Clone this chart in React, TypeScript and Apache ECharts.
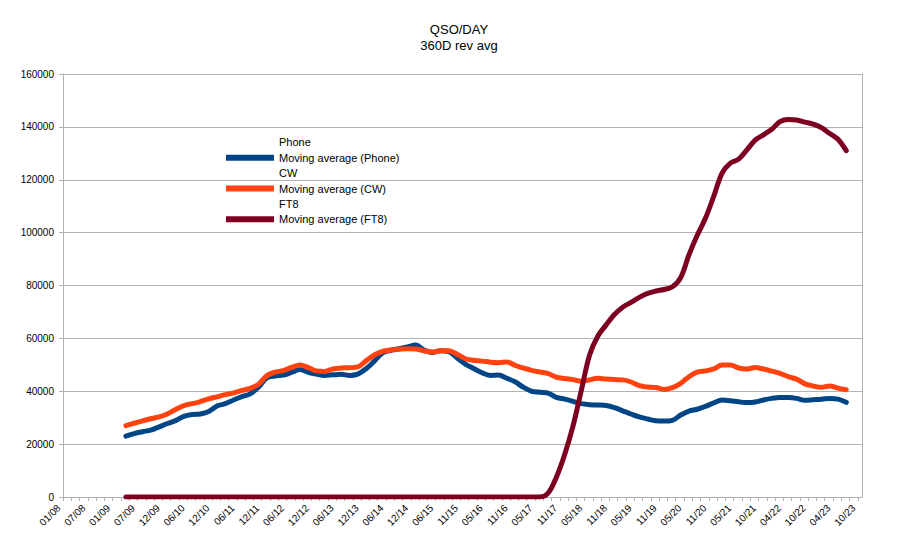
import { useEffect, useRef } from 'react';
import * as echarts from 'echarts';

// x axis: one tick per ~2 months, a label on every third tick
const tickLabels = [
  '01/08', '07/08', '01/09', '07/09', '12/09', '06/10', '12/10', '06/11', '12/11',
  '06/12', '12/12', '06/13', '12/13', '06/14', '12/14', '06/15', '11/15', '05/16',
  '11/16', '05/17', '11/17', '05/18', '11/18', '05/19', '11/19', '05/20', '11/20',
  '05/21', '10/21', '04/22', '10/22', '04/23', '10/23',
];
const LAST_TICK = 96.5;
// first sample sits this many ticks after 01/08, one sample per tick afterwards
const FIRST_SAMPLE = 7.6;

const phoneAvg = [
  23000, 24000, 24700, 25300, 26500, 27800, 28900, 30500, 31200, 31400,
  32300, 34400, 35300, 36700, 38000, 39000, 41500, 45000, 45800, 46100,
  47100, 48200, 47200, 46500, 46000, 46200, 46400, 46000, 46500, 48500,
  51400, 54500, 55500, 56100, 56800, 57500, 55600, 54700, 55300, 55000,
  52600, 50300, 48600, 47000, 46000, 46100, 44900, 43600, 41500, 40000,
  39600, 39300, 37700, 37000, 36200, 35300, 34900, 34800, 34600, 33800,
  32600, 31400, 30300, 29500, 28800, 28700, 29000, 31000, 32500, 33200,
  34300, 35600, 36700, 36400, 36000, 35700, 35900, 36700, 37300, 37600,
  37600, 37300, 36600, 36800, 37000, 37300, 37000, 35800,
];

const cwAvg = [
  27000, 27900, 28800, 29600, 30300, 31400, 33100, 34600, 35300, 36100,
  37100, 37900, 38700, 39400, 40300, 41100, 42600, 45900, 47200, 47800,
  49000, 49900, 49000, 47700, 47500, 48400, 48800, 48900, 49200, 51500,
  53700, 55100, 55600, 55900, 56100, 56000, 55300, 54800, 55300, 55300,
  54000, 52300, 51700, 51400, 51000, 50800, 51100, 49800, 48800, 47900,
  47300, 46700, 45300, 44800, 44400, 43800, 44300, 44900, 44600, 44400,
  44300, 43500, 42100, 41600, 41400, 40700, 41400, 43000, 45500, 47200,
  47700, 48500, 49900, 49900, 48800, 48400, 49000, 48400, 47600, 46800,
  45500, 44600, 42800, 42000, 41500, 42000, 41200, 40600,
];

const ft8Avg = [
  0, 0, 0, 0, 0, 0, 0, 0, 0, 0,
  0, 0, 0, 0, 0, 0, 0, 0, 0, 0,
  0, 0, 0, 0, 0, 0, 0, 0, 0, 0,
  0, 0, 0, 0, 0, 0, 0, 0, 0, 0,
  0, 0, 0, 0, 0, 0, 0, 0, 0, 0,
  0, 1500, 7600, 16200, 26900, 40300, 53700, 60900, 65100, 69000,
  71800, 73600, 75500, 77000, 77900, 78500, 79500, 83000, 91600, 99000,
  105500, 113800, 122500, 126300, 127800, 131300, 135000, 137000, 139100, 142000,
  142800, 142600, 141800, 141000, 139700, 137500, 135300, 131000,
];

const FONT = 'Liberation Sans, Arial, sans-serif';
const GRID_COLOR = '#b3b3b3';

function toPoints(values: number[]): [number, number][] {
  return values.map((v, k) => [FIRST_SAMPLE + k, v]);
}

function avgSeries(name: string, values: number[], color: string) {
  return {
    name,
    type: 'line' as const,
    data: toPoints(values),
    smooth: 0.35,
    symbol: 'none',
    color,
    lineStyle: { width: 5, color, cap: 'round' as const, join: 'round' as const },
  };
}

export default function App() {
  const chartRef = useRef<HTMLDivElement>(null);

  useEffect(() => {
    if (!chartRef.current) return;
    const chart = echarts.init(chartRef.current, undefined, { renderer: 'svg' });

    const hidden = { itemStyle: { color: 'rgba(0,0,0,0)' } };

    chart.setOption({
      animation: false,
      backgroundColor: '#ffffff',
      textStyle: { fontFamily: FONT },
      title: {
        text: 'QSO/DAY\n360D rev avg',
        left: 'center',
        top: 16,
        textStyle: {
          fontFamily: FONT,
          fontSize: 13,
          fontWeight: 'normal',
          color: '#000000',
          lineHeight: 16,
        },
      },
      legend: {
        orient: 'vertical',
        left: 226,
        top: 134.6,
        padding: 0,
        icon: 'rect',
        itemWidth: 48,
        itemHeight: 6,
        itemGap: 0,
        selectedMode: false,
        textStyle: { fontFamily: FONT, fontSize: 11, color: '#000000', lineHeight: 15.4 },
        data: [
          { name: 'Phone', ...hidden },
          { name: 'Moving average (Phone)' },
          { name: 'CW', ...hidden },
          { name: 'Moving average (CW)' },
          { name: 'FT8', ...hidden },
          { name: 'Moving average (FT8)' },
        ],
      },
      grid: { left: 63, right: 56, top: 74, bottom: 47 },
      xAxis: {
        type: 'value',
        min: 0,
        max: LAST_TICK,
        interval: 1,
        axisLine: { show: true, lineStyle: { color: GRID_COLOR } },
        axisTick: { show: true, length: 4, lineStyle: { color: GRID_COLOR } },
        splitLine: { show: false },
        axisLabel: {
          rotate: 45,
          margin: 5,
          padding: [0, 6, 0, 0],
          fontSize: 10,
          fontFamily: FONT,
          color: '#000000',
          showMaxLabel: false,
          formatter: (v: number) => (Number.isInteger(v) && v % 3 === 0 ? tickLabels[v / 3] ?? '' : ''),
        },
      },
      yAxis: [
        {
          type: 'value',
          min: 0,
          max: 160000,
          interval: 20000,
          axisLine: { show: true, lineStyle: { color: GRID_COLOR } },
          axisTick: { show: true, length: 4, lineStyle: { color: GRID_COLOR } },
          splitLine: { show: true, lineStyle: { color: GRID_COLOR } },
          axisLabel: {
            fontSize: 10,
            fontFamily: FONT,
            color: '#000000',
            margin: 9,
            formatter: (v: number) => String(v),
          },
        },
        {
          type: 'value',
          position: 'right',
          min: 0,
          max: 160000,
          interval: 20000,
          axisLine: { show: true, lineStyle: { color: GRID_COLOR } },
          axisTick: { show: false },
          splitLine: { show: false },
          axisLabel: { show: false },
        },
      ],
      series: [
        { name: 'Phone', type: 'line', data: [] },
        avgSeries('Moving average (Phone)', phoneAvg, '#004586'),
        { name: 'CW', type: 'line', data: [] },
        avgSeries('Moving average (CW)', cwAvg, '#ff420e'),
        { name: 'FT8', type: 'line', data: [] },
        avgSeries('Moving average (FT8)', ft8Avg, '#7e0021'),
      ],
    });

    const handleResize = () => chart.resize();
    window.addEventListener('resize', handleResize);
    return () => {
      window.removeEventListener('resize', handleResize);
      chart.dispose();
    };
  }, []);

  return (
    <div
      ref={chartRef}
      style={{ position: 'absolute', left: 0, top: 0, width: '918px', height: '544px' }}
    />
  );
}
